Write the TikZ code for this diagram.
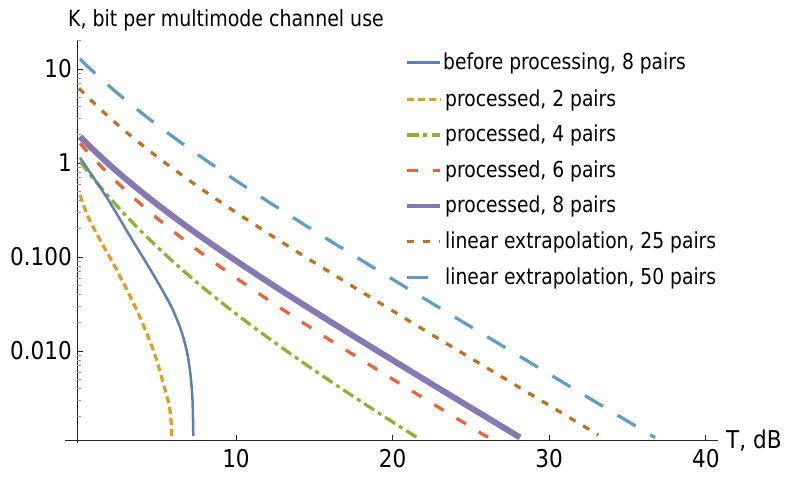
\documentclass[tikz,border=0pt]{standalone}
\usepackage{fontspec}
\setmainfont{DejaVu Sans}[FakeStretch=0.85]
\newfontfamily\tickfont{DejaVu Sans}[FakeStretch=0.88]
\definecolor{c1}{rgb}{0.368417,0.506779,0.709798}
\definecolor{c2}{rgb}{0.880722,0.611041,0.142051}
\definecolor{c3}{rgb}{0.560181,0.691569,0.194885}
\definecolor{c4}{rgb}{0.922526,0.385626,0.209179}
\definecolor{c5}{rgb}{0.528488,0.470624,0.701351}
\definecolor{c6}{rgb}{0.772079,0.431554,0.102387}
\definecolor{c7}{rgb}{0.363898,0.618501,0.782349}
\tikzset{
  axisline/.style={line width=0.9pt, black!85},
  majtick/.style={line width=0.9pt, black!85},
  mintick/.style={line width=0.7pt, black!40},
  kbefore/.style={line width=2.5pt, c1},
  kptwo/.style={line width=3.2pt, c2, dash pattern=on 7pt off 4pt},
  kpfour/.style={line width=3.2pt, c3, dash pattern=on 12pt off 4.5pt on 4pt off 4.5pt},
  kpsix/.style={line width=3.2pt, c4, dash pattern=on 11pt off 15pt},
  kpeight/.style={line width=6pt, c5},
  kext/.style={line width=3.2pt, c6, dash pattern=on 7pt off 9pt},
  kextb/.style={line width=3.2pt, c7, dash pattern=on 21pt off 17pt},
  ticklab/.style={font=\tickfont\fontsize{24.5}{28}\selectfont, inner sep=0pt},
  titlelab/.style={font=\fontsize{22.3}{26}\selectfont, inner sep=0pt, anchor=base west},
  leglab/.style={font=\fontsize{22}{26}\selectfont, inner sep=0pt, anchor=base west},
}
\begin{document}
\begin{tikzpicture}[x=1pt, y=-1pt]
\useasboundingbox (0,0) rectangle (789,477);
% axes
\draw[axisline] (77.3,40) -- (77.3,443);
\draw[axisline] (65,440) -- (718,440);
% x ticks
\foreach \xx in {236,392.6,549.2,705.8} \draw[majtick] (\xx,440) -- (\xx,435);
% y major ticks
\foreach \yy in {69,163,257,351} \draw[majtick] (77.3,\yy) -- (83,\yy);
% y minor ticks
\foreach \dd in {-3,-2,-1,0,1} {
  \foreach \kk in {2,...,9} {
    \pgfmathsetmacro{\yy}{163-94*(\dd+log10(\kk))}
    \pgfmathparse{(\yy>40 && \yy<440) ? 1 : 0}
    \ifnum\pgfmathresult=1 \draw[mintick] (77.3,\yy) -- (80.5,\yy); \fi
  }
}
% labels
\node[titlelab] (title) at (68,26) {K, bit per multimode channel use};
\node[ticklab, anchor=east] (y10) at (72,69) {10};
\node[ticklab, anchor=east] (y1) at (72,163) {1};
\node[ticklab, anchor=east] (y01) at (72,257) {0.100};
\node[ticklab, anchor=east] (y001) at (72,351) {0.010};
\node[ticklab] (x10) at (236,458.5) {10};
\node[ticklab] (x20) at (392.6,458.5) {20};
\node[ticklab] (x30) at (549.2,458.5) {30};
\node[ticklab] (x40) at (705.8,458.5) {40};
\node[ticklab, anchor=base west] (xlab) at (726,448) {T, dB};
% curves
\draw[kextb] plot[domain=80:655, samples=120, smooth] (\x, {59+0.6*(\x-80)+33.7*(1-exp(-(\x-80)/87.8))});
\draw[kext] plot[domain=79:598.3, samples=120, smooth] (\x, {88.3+0.6*(\x-79)+35.1*(1-exp(-(\x-79)/82))});
\draw[kpsix] plot[domain=80:488, samples=120, smooth] (\x, {143.3+0.6*(\x-80)+49.8*(1-exp(-(\x-80)/90))});
\draw[kpfour] plot[domain=80:417, samples=120, smooth] (\x, {161.7+0.6*(\x-80)+77.2*(1-exp(-(\x-80)/110))});
\draw[kptwo] plot[smooth] coordinates {(80,195) (87.3,215) (97.3,235) (116.7,270) (136.7,310) (153.3,350) (163.3,383.3) (170,410) (171.7,436)};
\draw[kbefore] plot[smooth] coordinates {(80,157.7) (107.3,198.3) (129,234.5) (150,269) (162,289.5) (172,308) (181,330) (187,352) (190.5,375) (192.5,400) (193.3,436)};
\draw[kpeight] plot[domain=80:520, samples=120, smooth] (\x, {136.7+0.6*(\x-80)+37*(1-exp(-(\x-80)/90))});
% legend
\coordinate (l1a) at (406.7,62.7); \coordinate (l1b) at (440,62.7);
\coordinate (l2a) at (406.7,99.5); \coordinate (l2b) at (440,99.5);
\coordinate (l3a) at (406.7,135); \coordinate (l3b) at (440,135);
\coordinate (l4a) at (406.7,170.5); \coordinate (l4b) at (440,170.5);
\coordinate (l5a) at (406.7,206); \coordinate (l5b) at (440,206);
\coordinate (l6a) at (406.7,241.5); \coordinate (l6b) at (440,241.5);
\coordinate (l7a) at (406.7,277.5); \coordinate (l7b) at (440,277.5);
\draw[kbefore] (l1a) -- (l1b);
\draw[kptwo] (l2a) -- (l2b);
\draw[kpfour] (l3a) -- (l3b);
\draw[kpsix] (l4a) -- (l4b);
\draw[kpeight, line width=4pt] (l5a) -- (l5b);
\draw[kext] (l6a) -- (l6b);
\draw[kextb] (l7a) -- (l7b);
\node[leglab] (t1) at (443,69.5) {before processing, 8 pairs};
\node[leglab] (t2) at (445,106.3) {processed, 2 pairs};
\node[leglab] (t3) at (445,141.8) {processed, 4 pairs};
\node[leglab] (t4) at (445,177.3) {processed, 6 pairs};
\node[leglab] (t5) at (445,212.8) {processed, 8 pairs};
\node[leglab] (t6) at (445,248.3) {linear extrapolation, 25 pairs};
\node[leglab] (t7) at (445,284.3) {linear extrapolation, 50 pairs};
\end{tikzpicture}
\end{document}
